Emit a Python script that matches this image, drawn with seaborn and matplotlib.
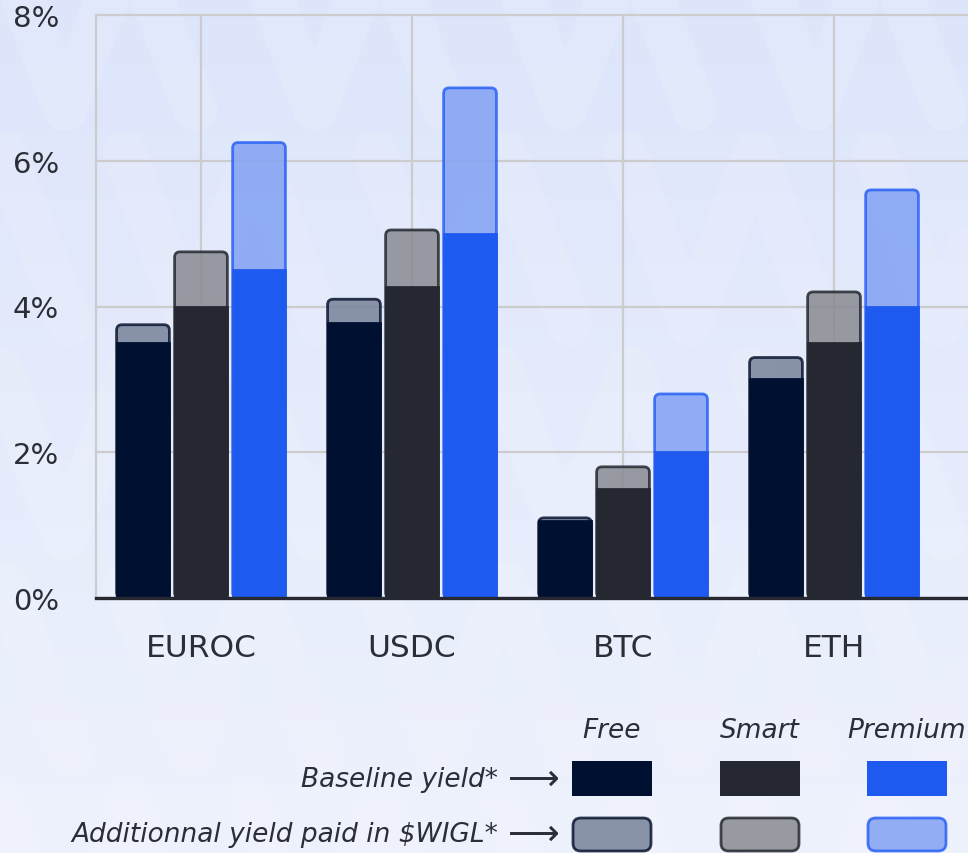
import numpy as np
import pandas as pd
import seaborn as sns
import matplotlib.pyplot as plt
from matplotlib.patches import FancyBboxPatch
from matplotlib.colors import LinearSegmentedColormap

# data (% yield)
assets = ['EUROC', 'USDC', 'BTC', 'ETH']
tiers = ['Free', 'Smart', 'Premium']
baseline_free = [3.5, 3.78, 1.05, 3.0]
baseline_smart = [4.0, 4.27, 1.5, 3.5]
baseline_premium = [4.5, 5.0, 2.0, 4.0]
extra_free = [0.25, 0.32, 0.05, 0.3]
extra_smart = [0.75, 0.78, 0.3, 0.7]
extra_premium = [1.75, 2.0, 0.8, 1.6]
yticks = [0, 2, 4, 6, 8]
ytick_labels = ['0%', '2%', '4%', '6%', '8%']

base_colors = ['#001030', '#252830', '#1f5af0']
extra_colors = ['#77829a', '#898b92', '#82a1f3']
edge_colors = ['#0b1530', '#25282f', '#2a62f5']
text_color = '#2b2e36'

rows = []
for b, e, t in [(baseline_free, extra_free, 'Free'),
                (baseline_smart, extra_smart, 'Smart'),
                (baseline_premium, extra_premium, 'Premium')]:
    for a, bv, ev in zip(assets, b, e):
        rows.append({'asset': a, 'tier': t, 'baseline': bv, 'total': bv + ev})
df = pd.DataFrame(rows)

sns.set_style('white')
plt.rcParams['font.family'] = ['DejaVu Sans']

fig = plt.figure(figsize=(9.68, 8.54), dpi=100)

# background gradient + faint watermark
bg = fig.add_axes([0, 0, 1, 1], zorder=-10)
grad = np.linspace(0, 1, 256).reshape(-1, 1)
cmap = LinearSegmentedColormap.from_list('bg', ['#dde5fb', '#eef2fd'])
bg.imshow(grad, aspect='auto', cmap=cmap, extent=[0, 968, 854, 0])
for r, y0 in enumerate(range(-60, 900, 215)):
    off = 0 if r % 2 == 0 else 125
    for x0 in range(-250 + off, 1100, 250):
        bg.plot([x0, x0 + 65, x0 + 130, x0 + 195], [y0, y0 + 170, y0, y0 + 170],
                color='white', alpha=0.12, linewidth=32, solid_capstyle='round',
                solid_joinstyle='round')
bg.set_xlim(0, 968)
bg.set_ylim(854, 0)
bg.set_axis_off()

ax = fig.add_axes([96 / 968, 1 - 599 / 854, 1 - 96 / 968, (599 - 16) / 854])
ax.set_facecolor('none')

# total bars (additional yield on top)
sns.barplot(data=df, x='asset', y='total', hue='tier', hue_order=tiers, order=assets,
            palette=extra_colors, width=0.825, gap=0.09, saturation=1,
            legend=False, ax=ax)
for k, cont in enumerate(ax.containers):
    for p in cont.patches:
        x, y = p.get_x(), p.get_y()
        w, h = p.get_width(), p.get_height()
        p.remove()
        ax.add_patch(FancyBboxPatch((x, y), w, h,
                                    boxstyle='round,pad=0,rounding_size=0.026',
                                    mutation_aspect=2.9,
                                    facecolor=extra_colors[k], alpha=0.85,
                                    edgecolor=edge_colors[k], linewidth=2.0,
                                    zorder=2))
n_extra = len(ax.containers)

# baseline bars
sns.barplot(data=df, x='asset', y='baseline', hue='tier', hue_order=tiers, order=assets,
            palette=base_colors, width=0.825, gap=0.09, saturation=1,
            legend=False, ax=ax)
for k, cont in enumerate(ax.containers[n_extra:]):
    for p in cont.patches:
        p.set_edgecolor(base_colors[k])
        p.set_linewidth(2.0)
        p.set_zorder(3)
        p.set_alpha(1)

ax.set_xlim(-0.4976, 3.635)
ax.set_ylim(0, 8)
ax.set_yticks(yticks)
ax.set_yticklabels(ytick_labels)
ax.set_xlabel('')
ax.set_ylabel('')
ax.set_axisbelow(True)
ax.grid(True, color='#cccccc', linewidth=1.6)
for gl in ax.get_ygridlines():
    gl.set_clip_on(False)

for s in ['top', 'right']:
    ax.spines[s].set_visible(False)
ax.spines['left'].set_color('#cccccc')
ax.spines['left'].set_linewidth(1.6)
ax.spines['bottom'].set_color('#252830')
ax.spines['bottom'].set_linewidth(2.4)
ax.spines['bottom'].set_zorder(5)

ax.tick_params(axis='y', length=14.5, width=2.4, color='#252830', pad=12,
               labelsize=21, labelcolor=text_color)
ax.tick_params(axis='x', length=6, width=2.4, color='#252830', pad=19,
               labelsize=22.5, labelcolor=text_color)

# custom legend
def fx(px):
    return px / 968

def fy(py):
    return 1 - py / 854

col_x = [572, 720, 867]
sw_w, sw_h = 80, 35
for k, t in enumerate(tiers):
    fig.text(fx(col_x[k] + sw_w / 2), fy(731), t, ha='center', va='center',
             fontsize=19, style='italic', color=text_color)
    fig.patches.append(plt.Rectangle((fx(col_x[k]), fy(797)), fx(sw_w), sw_h / 854,
                                     transform=fig.transFigure, facecolor=base_colors[k],
                                     edgecolor='none'))
    fig.patches.append(FancyBboxPatch((fx(col_x[k] + 1), fy(852)), fx(sw_w - 2), (sw_h - 2) / 854,
                                      boxstyle='round,pad=0,rounding_size=0.008',
                                      mutation_aspect=968 / 854,
                                      transform=fig.transFigure, facecolor=extra_colors[k],
                                      alpha=0.85, edgecolor=edge_colors[k], linewidth=2.0))

fig.text(fx(498), fy(780), 'Baseline yield*', ha='right', va='center',
         fontsize=19, style='italic', color=text_color)
fig.text(fx(498), fy(835), 'Additionnal yield paid in $WIGL*', ha='right', va='center',
         fontsize=19, style='italic', color=text_color)
for yy in [780, 835]:
    fig.text(fx(534), fy(yy), '⟶', ha='center', va='center',
             fontsize=26, color=text_color)

fig.savefig('out.png', dpi=100)
